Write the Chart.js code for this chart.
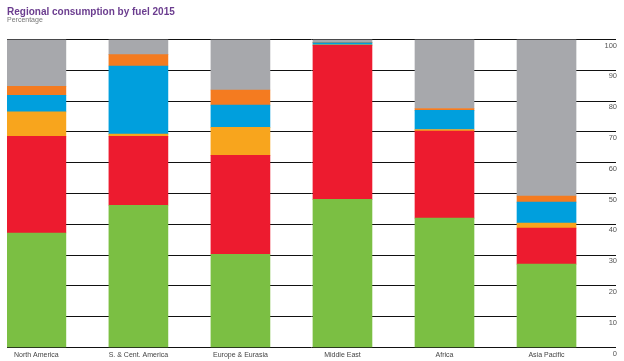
<!DOCTYPE html>
<html>
<head>
<meta charset="utf-8">
<script src="https://cdn.jsdelivr.net/npm/chart.js@4.4.0/dist/chart.umd.min.js"></script>
<style>
  html, body { margin: 0; padding: 0; background: #fff; }
  #wrap { width: 624px; height: 361px; }
</style>
</head>
<body>
<div id="wrap"><canvas id="fuelChart"></canvas></div>
<script>
// regions along the bottom, fuels stacked bottom to top
const regions = ["North America", "S. & Cent. America", "Europe & Eurasia", "Middle East", "Africa", "Asia Pacific"];
const oil        = [37.2, 46.2, 30.3, 48.1, 42.0, 27.1];
const gas        = [31.4, 22.4, 32.1, 50.0, 28.3, 11.7];
const nuclear    = [7.9, 0.7, 9.1, 0.2, 0.5, 1.6];
const hydro      = [5.4, 22.1, 7.2, 0.6, 6.2, 6.8];
const renewables = [2.9, 3.7, 4.9, 0.1, 0.6, 2.0];
const coal       = [15.2, 4.9, 16.4, 1.0, 22.4, 50.8];
const yTicks = [0, 10, 20, 30, 40, 50, 60, 70, 80, 90, 100];

function toPoints(arr) {
    return arr.map(function (v, i) { return { x: i, y: v }; });
}

function series(label, arr, color) {
    return {
        label: label,
        data: toPoints(arr),
        backgroundColor: color,
        borderWidth: 0,
        barThickness: 59
    };
}

const fontFamily = "'Liberation Sans', Arial, sans-serif";

new Chart("fuelChart", {
    type: "bar",
    data: {
        datasets: [
            series("Oil", oil, "#7bbf43"),
            series("Natural gas", gas, "#ed1b2f"),
            series("Nuclear energy", nuclear, "#f8a51d"),
            series("Hydroelectricity", hydro, "#009fdd"),
            series("Renewables", renewables, "#f47b20"),
            series("Coal", coal, "#a7a8ac")
        ]
    },
    options: {
        responsive: true,
        maintainAspectRatio: false,
        animation: false,
        layout: { padding: { left: 7, right: 6, top: 0, bottom: -1 } },
        plugins: {
            legend: { display: false },
            tooltip: { enabled: false },
            title: {
                display: true,
                text: "Regional consumption by fuel 2015",
                align: "start",
                color: "#6b3d8f",
                font: { family: fontFamily, size: 10, weight: "bold", lineHeight: 1 },
                padding: { top: 7, bottom: 0 }
            },
            subtitle: {
                display: true,
                text: "Percentage",
                align: "start",
                color: "#777777",
                font: { family: fontFamily, size: 7, lineHeight: 1 },
                padding: { top: 0, bottom: 15.5 }
            }
        },
        scales: {
            x: {
                type: "linear",
                stacked: true,
                offset: false,
                min: -0.288,
                max: 5.681,
                grid: { display: false, drawTicks: false, offset: false },
                border: { display: false },
                afterBuildTicks: function (axis) {
                    axis.ticks = regions.map(function (r, i) { return { value: i }; });
                },
                ticks: {
                    autoSkip: false,
                    maxRotation: 0,
                    padding: 3,
                    color: "#444",
                    font: { family: fontFamily, size: 7 },
                    callback: function (v) { return regions[v]; }
                }
            },
            y: {
                stacked: true,
                position: "right",
                min: 0,
                max: 100,
                afterBuildTicks: function (axis) {
                    axis.ticks = yTicks.map(function (t) { return { value: t }; });
                },
                grid: { color: "#111111", lineWidth: 1, drawTicks: false },
                border: { display: false },
                ticks: {
                    mirror: true,
                    padding: 1,
                    labelOffset: 6,
                    color: "#555",
                    font: { family: fontFamily, size: 7.5 }
                }
            }
        }
    }
});
</script>
</body>
</html>
